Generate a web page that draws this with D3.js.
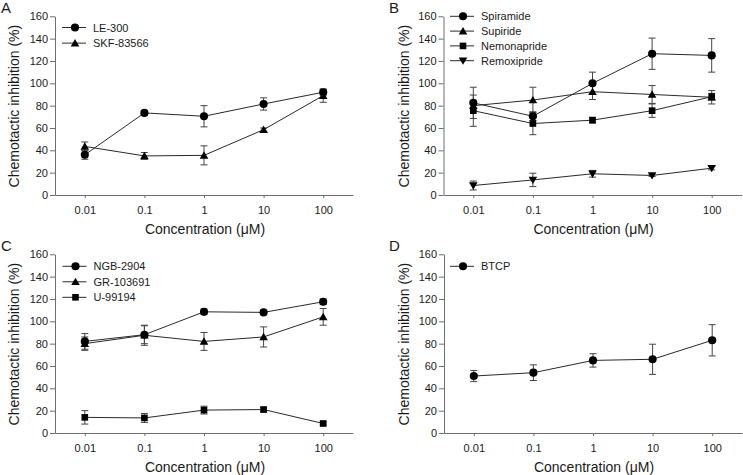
<!DOCTYPE html>
<html><head><meta charset="utf-8">
<script src="https://cdn.jsdelivr.net/npm/d3@7/dist/d3.min.js"></script>
<style>
html,body{margin:0;padding:0;background:#fff;}
svg{display:block;font-family:"Liberation Sans",Arial,sans-serif;}
</style></head>
<body>
<svg id="chart" width="743" height="475"></svg>
<script>
// ---- data ----
const concentrations = [0.01, 0.1, 1, 10, 100];
const xTickLabels = ["0.01", "0.1", "1", "10", "100"];
const yTickValues = [0, 20, 40, 60, 80, 100, 120, 140, 160];

// Panel A
const le300 = [36, 73.5, 70.5, 81.5, 92];
const le300Err = [4, 2, 9.5, 5.5, 2.5];
const skf83566 = [43.5, 35, 35.5, 58.5, 89];
const skf83566Err = [4, 3, 8.5, 1.5, 6];

// Panel B
const spiramide = [82.5, 70.5, 100, 126.5, 125];
const spiramideErr = [14, 4, 10, 14, 15];
const supiride = [80, 85, 92.5, 90, 87.5];
const supirideErr = [4, 11.5, 7, 8, 6];
const nemonapride = [75.5, 64, 67, 75.5, 88];
const nemonaprideErr = [14, 10, 2.5, 6, 3];
const remoxipride = [8.5, 13.5, 19, 17.5, 24];
const remoxiprideErr = [4, 6, 3, 1, 1.5];

// Panel C
const ngb2904 = [82, 88, 108.5, 108, 117.5];
const ngb2904Err = [7, 8, 2.5, 2, 2.5];
const gr103691 = [80, 87.5, 82, 86, 104];
const gr103691Err = [6, 9, 8, 9, 7.5];
const u99194 = [14, 13.5, 20.5, 21, 8.5];
const u99194Err = [6, 4, 3.5, 2, 1.5];

// Panel D
const btcp = [51, 54, 65, 66, 83];
const btcpErr = [5, 7, 6, 13.5, 14];

const xTitle = "Concentration (\u03BCM)";
const yTitle = "Chemotactic inhibition (%)";

// ---- layout ----
const panels = [
  { letter: "A", lx: 1, ly: 13, x0: 55, x1: 353, yb: 195, yt: 16.3, titleX: 18.5,
    legend: { x: 62, y: 27.5, dy: 15.6 },
    series: [
      { name: "LE-300", values: le300, err: le300Err, shape: "circle" },
      { name: "SKF-83566", values: skf83566, err: skf83566Err, shape: "triangle" }
    ] },
  { letter: "B", lx: 389, ly: 13, x0: 443.5, x1: 741.5, yb: 195, yt: 16.3, titleX: 409,
    legend: { x: 450, y: 16.3, dy: 14.8 },
    series: [
      { name: "Spiramide", values: spiramide, err: spiramideErr, shape: "circle" },
      { name: "Supiride", values: supiride, err: supirideErr, shape: "triangle" },
      { name: "Nemonapride", values: nemonapride, err: nemonaprideErr, shape: "square" },
      { name: "Remoxipride", values: remoxipride, err: remoxiprideErr, shape: "down" }
    ] },
  { letter: "C", lx: 1, ly: 251, x0: 55, x1: 353, yb: 433, yt: 254.3, titleX: 18.5,
    legend: { x: 62.5, y: 266.3, dy: 15.5 },
    series: [
      { name: "NGB-2904", values: ngb2904, err: ngb2904Err, shape: "circle" },
      { name: "GR-103691", values: gr103691, err: gr103691Err, shape: "triangle" },
      { name: "U-99194", values: u99194, err: u99194Err, shape: "square" }
    ] },
  { letter: "D", lx: 389, ly: 251, x0: 444, x1: 742, yb: 433, yt: 254.3, titleX: 409,
    legend: { x: 450, y: 266.3, dy: 15 },
    series: [
      { name: "BTCP", values: btcp, err: btcpErr, shape: "circle" }
    ] }
];

const axisColor = "#6e6e6e";
const lineColor = "#2a2a2a";
const textColor = "#1a1a1a";

const svg = d3.select("#chart");

function marker(g, shape, x, y) {
  let sym, size, rot = 0;
  if (shape === "circle") { sym = d3.symbolCircle; size = 52; }
  else if (shape === "triangle") { sym = d3.symbolTriangle; size = 32; }
  else if (shape === "square") { sym = d3.symbolSquare; size = 44; }
  else { sym = d3.symbolTriangle; size = 32; rot = 180; }
  g.append("path")
    .attr("d", d3.symbol().type(sym).size(size)())
    .attr("transform", `translate(${x},${y}) rotate(${rot})${shape==="triangle"?" translate(0,0.8)":shape==="down"?" translate(0,0.8)":""}`)
    .attr("fill", "#000");
}

panels.forEach(p => {
  const g = svg.append("g");
  const x = d3.scaleLog().domain([Math.pow(10, -2.5), Math.pow(10, 2.5)]).range([p.x0, p.x1]);
  const y = d3.scaleLinear().domain([0, 160]).range([p.yb, p.yt]);

  // panel letter
  g.append("text").attr("x", p.lx).attr("y", p.ly).attr("font-size", 15)
    .attr("fill", textColor).text(p.letter);

  // y axis
  const ya = g.append("g").attr("transform", `translate(${p.x0},0)`)
    .call(d3.axisLeft(y).tickValues(yTickValues).tickSize(5).tickPadding(2).tickSizeOuter(0));
  ya.select(".domain").attr("stroke", axisColor);
  ya.selectAll(".tick line").attr("stroke", axisColor);
  ya.selectAll(".tick text").attr("font-size", 11).attr("fill", textColor)
    .attr("font-family", "Liberation Sans, Arial, sans-serif");

  // x axis
  const xa = g.append("g").attr("transform", `translate(0,${p.yb})`)
    .call(d3.axisBottom(x).tickValues(concentrations).tickFormat((d, i) => xTickLabels[i])
      .tickSize(3).tickPadding(8).tickSizeOuter(0));
  xa.select(".domain").attr("stroke", axisColor);
  xa.selectAll(".tick line").attr("stroke", axisColor);
  xa.selectAll(".tick text").attr("font-size", 11).attr("fill", textColor)
    .attr("font-family", "Liberation Sans, Arial, sans-serif");

  // titles
  g.append("text").attr("x", (p.x0 + p.x1) / 2 + 1).attr("y", p.yb + 39)
    .attr("text-anchor", "middle").attr("font-size", 14).attr("fill", textColor).text(xTitle);
  g.append("text")
    .attr("transform", `translate(${p.titleX},${(p.yb + p.yt) / 2 + 0.5}) rotate(-90)`)
    .attr("text-anchor", "middle").attr("font-size", 14).attr("fill", textColor).text(yTitle);

  // series
  const line = d3.line().x((d, i) => x(concentrations[i])).y(d => y(d));
  p.series.forEach(s => {
    const sg = g.append("g");
    // error bars
    s.values.forEach((v, i) => {
      const cx = x(concentrations[i]);
      const e = s.err[i];
      sg.append("line").attr("x1", cx).attr("x2", cx).attr("y1", y(v - e)).attr("y2", y(v + e))
        .attr("stroke", "#444").attr("stroke-width", 1);
      [v - e, v + e].forEach(ev => {
        sg.append("line").attr("x1", cx - 3.5).attr("x2", cx + 3.5).attr("y1", y(ev)).attr("y2", y(ev))
          .attr("stroke", "#444").attr("stroke-width", 1);
      });
    });
    sg.append("path").attr("d", line(s.values)).attr("fill", "none")
      .attr("stroke", lineColor).attr("stroke-width", 1);
  });
  p.series.forEach(s => {
    s.values.forEach((v, i) => marker(g, s.shape, x(concentrations[i]), y(v)));
  });

  // legend
  p.series.forEach((s, i) => {
    const ly = p.legend.y + i * p.legend.dy;
    const lx = p.legend.x;
    g.append("line").attr("x1", lx).attr("x2", lx + 24).attr("y1", ly).attr("y2", ly)
      .attr("stroke", lineColor).attr("stroke-width", 1);
    marker(g, s.shape, lx + 13, ly);
    g.append("text").attr("x", lx + 31).attr("y", ly + 4).attr("font-size", 11)
      .attr("fill", textColor).text(s.name);
  });
});
</script>
</body></html>
